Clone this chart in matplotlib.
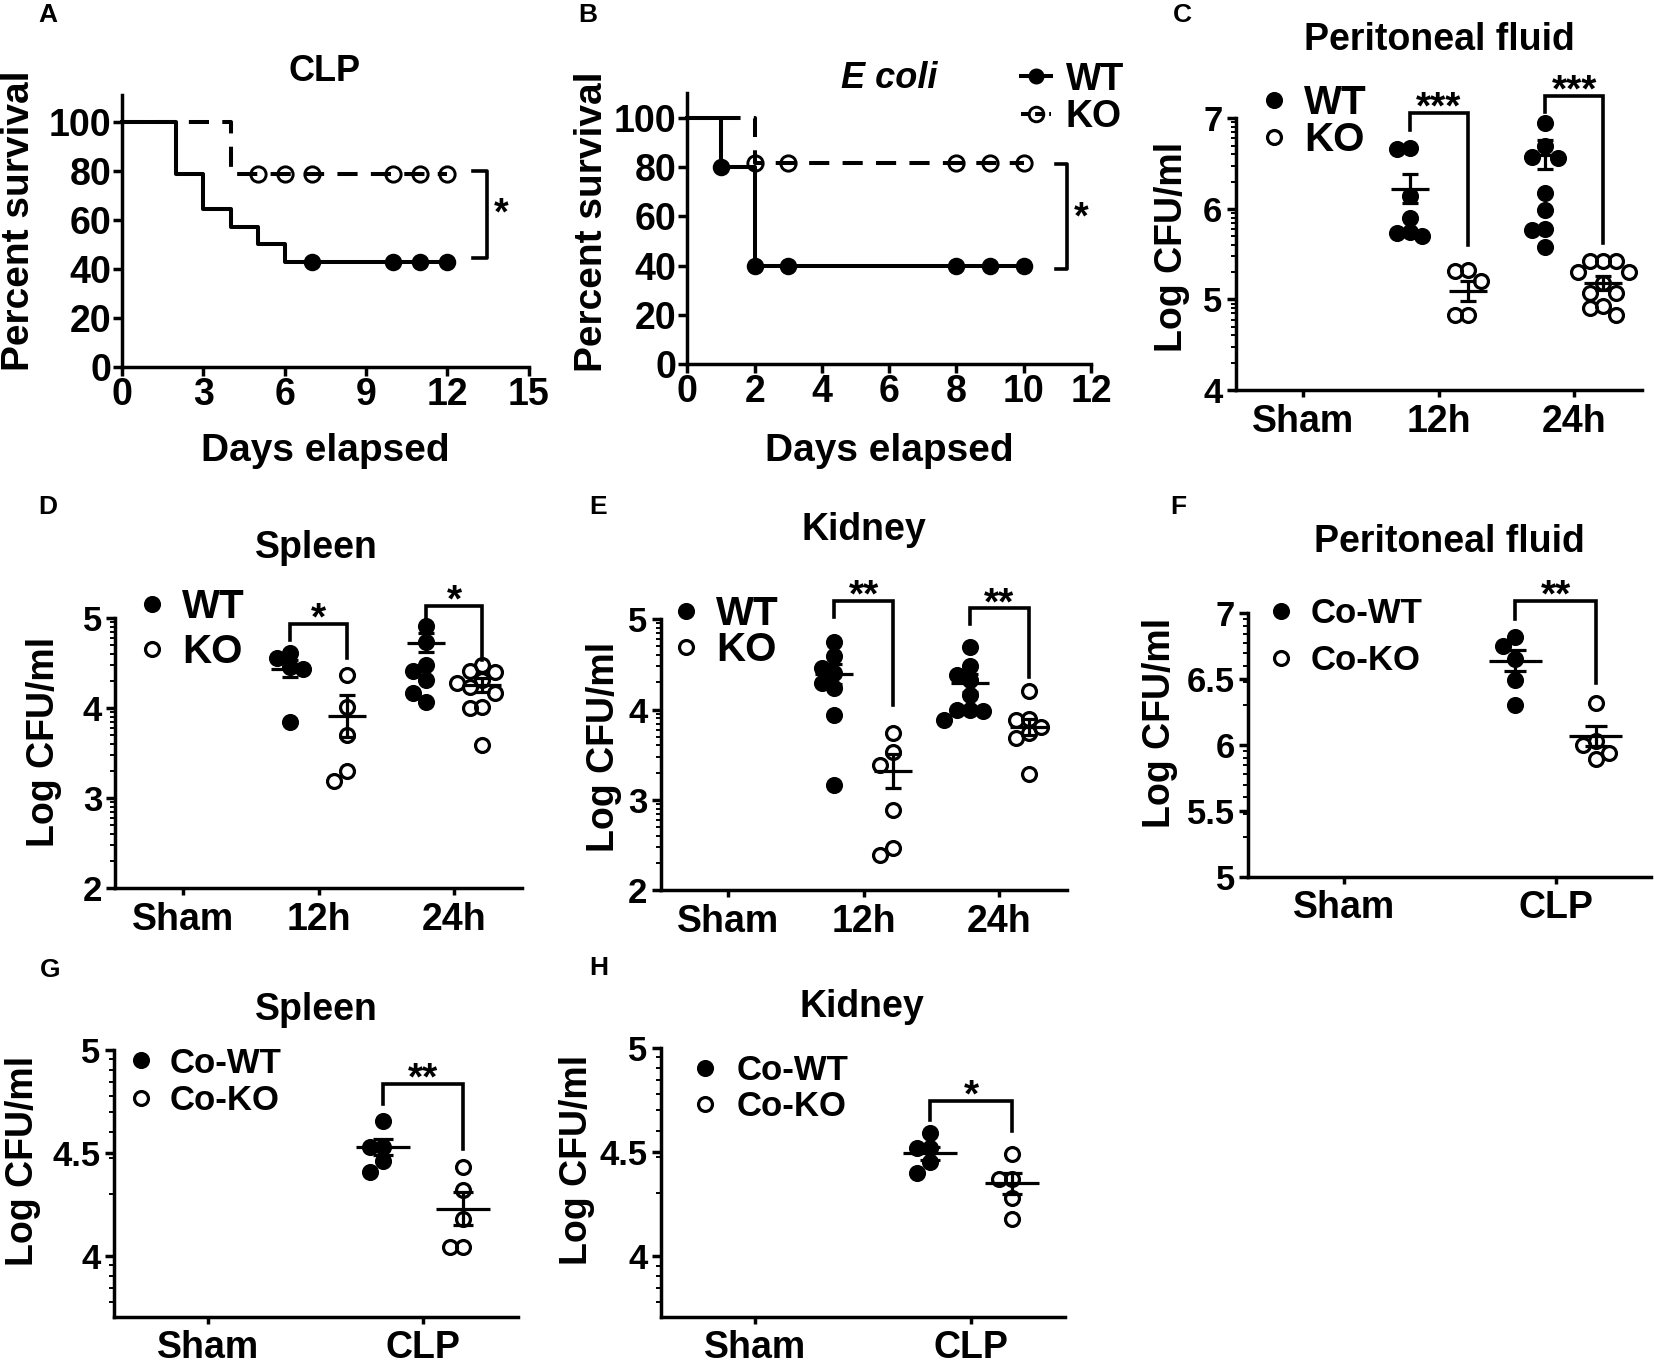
import numpy as np
import matplotlib
matplotlib.use("Agg")
import matplotlib.pyplot as plt
from matplotlib.lines import Line2D
from matplotlib.ticker import FixedLocator, FuncFormatter

plt.rcParams['font.family'] = ['Liberation Sans', 'DejaVu Sans']
plt.rcParams['font.weight'] = 'bold'
plt.rcParams['axes.linewidth'] = 2.5

# ---------------- survival data (% survival, step curves) ----------------
clp_wt_days = [0, 2, 3, 4, 5, 6, 12]
clp_wt_surv = [100, 78.6, 64.3, 57.1, 50.0, 42.9, 42.9]
clp_wt_censored = [7, 10, 11, 12]
clp_ko_days = [0, 4, 12]
clp_ko_surv = [100, 78.6, 78.6]
clp_ko_censored = [5, 6, 7, 10, 11, 12]

ecoli_wt_days = [0, 1, 2, 10]
ecoli_wt_surv = [100, 80, 40, 40]
ecoli_wt_censored = [1, 2, 3, 8, 9, 10]
ecoli_ko_days = [0, 2, 10]
ecoli_ko_surv = [100, 81.8, 81.8]
ecoli_ko_censored = [2, 3, 8, 9, 10]

# ---------------- bacterial load (Log CFU/ml) ----------------
time_groups = ['Sham', '12h', '24h']
co_groups = ['Sham', 'CLP']

# C peritoneal fluid
pf_wt = {'12h': [6.67, 6.66, 6.14, 5.90, 5.74, 5.70, 5.73],
         '24h': [6.95, 6.69, 6.57, 6.56, 6.17, 5.99, 5.78, 5.77, 5.58]}
pf_ko = {'12h': [5.32, 5.31, 5.20, 4.83, 4.83],
         '24h': [5.42, 5.42, 5.42, 5.30, 5.30, 5.18, 5.07, 5.07, 4.93, 4.90, 4.83]}
pf_wt_mean = {'12h': 6.22, '24h': 6.60}
pf_wt_sem = {'12h': 0.16, '24h': 0.165}
pf_ko_mean = {'12h': 5.09, '24h': 5.18}
pf_ko_sem = {'12h': 0.11, '24h': 0.075}
pf_sig = {'12h': (7.055, 6.87, 5.60, '***'), '24h': (7.25, 7.07, 5.62, '***')}

# D spleen
sp_wt = {'12h': [4.61, 4.56, 4.46, 4.44, 3.85],
         '24h': [4.91, 4.74, 4.48, 4.41, 4.31, 4.17, 4.07]}
sp_ko = {'12h': [4.37, 4.02, 3.70, 3.30, 3.19],
         '24h': [4.48, 4.42, 4.40, 4.31, 4.28, 4.24, 4.17, 4.02, 4.00, 3.59]}
sp_wt_mean = {'12h': 4.44, '24h': 4.73}
sp_wt_sem = {'12h': 0.093, '24h': 0.11}
sp_ko_mean = {'12h': 3.915, '24h': 4.26}
sp_ko_sem = {'12h': 0.23, '24h': 0.075}
sp_sig = {'12h': (4.94, 4.76, 4.56, '*'), '24h': (5.14, 4.94, 4.54, '*')}

# E kidney
kd_wt = {'12h': [4.75, 4.59, 4.46, 4.40, 4.29, 4.24, 3.94, 3.16],
         '24h': [4.69, 4.48, 4.38, 4.33, 4.16, 4.00, 4.00, 3.98, 3.88]}
kd_ko = {'12h': [3.74, 3.53, 3.39, 2.89, 2.46, 2.39],
         '24h': [4.20, 3.90, 3.88, 3.81, 3.74, 3.68, 3.29]}
kd_wt_mean = {'12h': 4.39, '24h': 4.29}
kd_wt_sem = {'12h': 0.11, '24h': 0.10}
kd_ko_mean = {'12h': 3.32, '24h': 3.81}
kd_ko_sem = {'12h': 0.19, '24h': 0.09}
kd_sig = {'12h': (5.20, 5.03, 4.05, '**'), '24h': (5.12, 4.95, 4.365, '**')}

# F co-housed peritoneal fluid
cpf_wt = {'CLP': [6.82, 6.75, 6.65, 6.49, 6.30]}
cpf_ko = {'CLP': [6.32, 6.03, 6.00, 5.94, 5.89]}
cpf_wt_mean = {'CLP': 6.64}
cpf_wt_sem = {'CLP': 0.08}
cpf_ko_mean = {'CLP': 6.07}
cpf_ko_sem = {'CLP': 0.078}
cpf_sig = {'CLP': (7.094, 6.954, 6.468, '**')}

# G co-housed spleen
csp_wt = {'CLP': [4.657, 4.53, 4.53, 4.46, 4.41]}
csp_ko = {'CLP': [4.43, 4.32, 4.18, 4.045, 4.045]}
csp_wt_mean = {'CLP': 4.53}
csp_wt_sem = {'CLP': 0.04}
csp_ko_mean = {'CLP': 4.23}
csp_ko_sem = {'CLP': 0.081}
csp_sig = {'CLP': (4.833, 4.738, 4.518, '**')}

# H co-housed kidney
ckd_wt = {'CLP': [4.59, 4.52, 4.52, 4.45, 4.40]}
ckd_ko = {'CLP': [4.49, 4.37, 4.37, 4.28, 4.18]}
ckd_wt_mean = {'CLP': 4.493}
ckd_wt_sem = {'CLP': 0.032}
ckd_ko_mean = {'CLP': 4.349}
ckd_ko_sem = {'CLP': 0.052}
ckd_sig = {'CLP': (4.746, 4.653, 4.602, '*')}

W, H, DPI = 1654, 1367, 100
fig = plt.figure(figsize=(W / DPI, H / DPI), dpi=DPI)


def px_axes(l, t, r, b):
    return fig.add_axes([l / W, 1 - b / H, (r - l) / W, (b - t) / H])


def fpos(x, y):
    return (x / W, 1 - y / H)


def base_style(ax):
    for s in ('top', 'right'):
        ax.spines[s].set_visible(False)
    ax.tick_params(which='major', direction='out', width=2.5, color='k')


def legend_at(ax, handles, labels, dot_x, y1, y2, text_x, fs, hl=1.0):
    fs_px = fs * DPI / 72.0
    th = 0.94 * fs_px
    htp = (text_x - dot_x) / fs_px - hl / 2
    ls = ((y2 - y1) - th) / fs_px
    ax.legend(handles, labels, loc='center left', frameon=False, fontsize=fs,
              bbox_to_anchor=fpos(dot_x - hl * fs_px / 2, (y1 + y2) / 2),
              bbox_transform=fig.transFigure, borderpad=0, borderaxespad=0,
              handlelength=hl, handletextpad=htp, labelspacing=ls, numpoints=1)


def label_y(ax, text, x, y, fs):
    ax.set_ylabel(text, fontsize=fs, fontweight='bold', va='center')
    ax.yaxis.set_label_coords(*fpos(x, y), transform=fig.transFigure)


# ---------------- Kaplan-Meier panels ----------------
def km_curve(ax, days, surv, censored, dashed, filled):
    ls = (0, (5.0, 3.3)) if dashed else '-'
    ax.step(days, surv, where='post', color='k', lw=2.9, ls=ls, clip_on=False, zorder=2)
    idx = np.searchsorted(days, censored, side='right') - 1
    ax.plot(censored, np.asarray(surv)[idx], ls='none', marker='o',
            ms=10.5 if filled else 11, mfc='k' if filled else 'none', mec='k',
            mew=2.1, clip_on=False, zorder=3)


def km_panel(ax, xmax, xstep, ytop):
    base_style(ax)
    ax.set_xlim(0, xmax)
    ax.set_ylim(0, ytop)
    ax.set_xticks(np.arange(0, xmax + 0.1, xstep))
    ax.set_yticks(np.arange(0, 101, 20))
    ax.tick_params(which='major', length=6.2, labelsize=27, pad=1.5)
    ax.tick_params(axis='x', pad=1)


axA = px_axes(122.2, 95, 528.6, 366.7)
km_panel(axA, 15, 3, 111)
km_curve(axA, clp_ko_days, clp_ko_surv, clp_ko_censored, True, False)
km_curve(axA, clp_wt_days, clp_wt_surv, clp_wt_censored, False, True)
axA.plot([12.94, 13.48, 13.48, 12.94], [80.1, 80.1, 44.5, 44.5], color='k', lw=2.6,
         clip_on=False)
axA.text(14.0, 62, '*', fontsize=27, ha='center', va='center')
label_y(axA, 'Percent survival', 19, 221, 28)
axA.set_xlabel('Days elapsed', fontsize=28, fontweight='bold', va='center')
axA.xaxis.set_label_coords(*fpos(325, 451), transform=fig.transFigure)
fig.text(*fpos(325, 71.7), 'CLP', fontsize=26, ha='center', va='center')

axB = px_axes(687.4, 93.3, 1091, 364)
km_panel(axB, 12, 2, 110)
km_curve(axB, ecoli_ko_days, ecoli_ko_surv, ecoli_ko_censored, True, False)
km_curve(axB, ecoli_wt_days, ecoli_wt_surv, ecoli_wt_censored, False, True)
axB.plot([10.97, 11.28, 11.28, 10.97], [81.4, 81.4, 38.8, 38.8], color='k', lw=2.6,
         clip_on=False)
axB.text(11.72, 59, '*', fontsize=27, ha='center', va='center')
label_y(axB, 'Percent survival', 592.5, 221.5, 28)
axB.set_xlabel('Days elapsed', fontsize=28, fontweight='bold', va='center')
axB.xaxis.set_label_coords(*fpos(889, 451), transform=fig.transFigure)
fig.text(*fpos(889.5, 78.3), 'E coli', fontsize=26, style='italic', ha='center', va='center')
wt_h = Line2D([], [], color='k', lw=2.9, marker='o', ms=10.5, mfc='k')
ko_h = Line2D([], [], color='k', lw=2.9, ls=(0, (2, 1.5)), marker='o', ms=10.5, mfc='none', mew=2.1)
legend_at(axB, [wt_h, ko_h], ['WT', 'KO'], 1036, 80, 116.7, 1066, 27, hl=0.8)


# ---------------- scatter (CFU) panels ----------------
def swarm(ax, xc, vals, ms=10):
    d = 0.92 * ms * DPI / 72.0
    cx = ax.transData.transform((xc, 0))[0]
    ys = ax.transData.transform(np.column_stack([np.full(len(vals), xc), vals]))[:, 1]
    xs = np.empty(len(vals))
    placed = []
    for i in np.argsort(-np.asarray(vals), kind='stable'):
        for k in (0, -1, 1, -2, 2, -3, 3):
            x = cx + k * d
            if all(np.hypot(x - px, ys[i] - py) >= d - 1e-6 for px, py in placed):
                break
        placed.append((x, ys[i]))
        xs[i] = x
    return ax.transData.inverted().transform(np.column_stack([xs, ys]))[:, 0]


def log_minor(lo, hi):
    out = []
    for n in range(int(np.floor(lo)), int(np.ceil(hi))):
        for k in range(2, 10):
            v = n + np.log10(k)
            if lo <= v <= hi:
                out.append(v)
    return out


def cfu_panel(ax, groups, xlim, ylim, yticks, wt, ko, wt_mean, wt_sem, ko_mean, ko_sem, sig,
              off, mean_hw, capsize):
    base_style(ax)
    ax.set_xlim(*xlim)
    ax.set_ylim(*ylim)
    ax.set_xticks(range(len(groups)))
    ax.set_xticklabels(groups)
    ax.yaxis.set_major_locator(FixedLocator(yticks))
    ax.yaxis.set_major_formatter(FuncFormatter(lambda v, p: '%g' % v))
    ax.yaxis.set_minor_locator(FixedLocator(log_minor(*ylim)))
    ax.tick_params(axis='y', which='major', length=6.5, labelsize=25, pad=3)
    ax.tick_params(axis='y', which='minor', direction='out', length=3.8, width=1.4)
    ax.tick_params(axis='x', which='major', length=4.8, labelsize=27, pad=5)
    for i, g in enumerate(groups):
        if g not in wt:
            continue
        for vals, m, s, dx, face in ((wt[g], wt_mean[g], wt_sem[g], -off, 'k'),
                                     (ko[g], ko_mean[g], ko_sem[g], off, 'none')):
            xc = i + dx
            ax.plot(swarm(ax, xc, vals), vals, ls='none', marker='o', ms=10, mfc=face,
                    mec='k', mew=2.3, clip_on=False, zorder=3)
            ax.errorbar(xc, m, yerr=s, fmt='none', ecolor='k', elinewidth=2.3,
                        capsize=capsize, capthick=2.3, zorder=4, clip_on=False)
            ax.hlines(m, xc - mean_hw, xc + mean_hw, color='k', lw=2.3, zorder=4)
        top, lb, rb, stars = sig[g]
        ax.plot([i - off, i - off, i + off, i + off], [lb, top, top, rb], color='k', lw=2.6,
                clip_on=False, solid_joinstyle='miter')
        ax.annotate(stars, (i, top), xytext=(0, -4), textcoords='offset points',
                    ha='center', va='baseline', fontsize=28, annotation_clip=False)


def scatter_legend(ax, labels, dot_x, y1, y2, text_x, fs):
    h1 = Line2D([], [], ls='none', marker='o', ms=10, mfc='k', mec='k', mew=2.3)
    h2 = Line2D([], [], ls='none', marker='o', ms=10, mfc='none', mec='k', mew=2.3)
    legend_at(ax, [h1, h2], labels, dot_x, y1, y2, text_x, fs)


axC = px_axes(1235.6, 118.3, 1641.8, 390)
cfu_panel(axC, time_groups, (-0.5, 2.5), (4, 7), [4, 5, 6, 7], pf_wt, pf_ko,
          pf_wt_mean, pf_wt_sem, pf_ko_mean, pf_ko_sem, pf_sig, 0.215, 0.14, 5.8)
label_y(axC, 'Log CFU/ml', 1171.5, 246.7, 27)
scatter_legend(axC, ['WT', 'KO'], 1274, 103.3, 140, 1304, 29)
fig.text(*fpos(1439, 40), 'Peritoneal fluid', fontsize=27, ha='center', va='center')

axD = px_axes(115.4, 618.3, 521.7, 888.3)
cfu_panel(axD, time_groups, (-0.5, 2.5), (2, 5), [2, 3, 4, 5], sp_wt, sp_ko,
          sp_wt_mean, sp_wt_sem, sp_ko_mean, sp_ko_sem, sp_sig, 0.21, 0.14, 5.8)
label_y(axD, 'Log CFU/ml', 44, 741.7, 27)
scatter_legend(axD, ['WT', 'KO'], 151.5, 606.7, 651.7, 182, 29)
fig.text(*fpos(316.8, 548.3), 'Spleen', fontsize=27, ha='center', va='center')

axE = px_axes(660.5, 619.3, 1066.9, 890)
cfu_panel(axE, time_groups, (-0.5, 2.5), (2, 5), [2, 3, 4, 5], kd_wt, kd_ko,
          kd_wt_mean, kd_wt_sem, kd_ko_mean, kd_ko_sem, kd_sig, 0.217, 0.14, 5.8)
label_y(axE, 'Log CFU/ml', 604.5, 746.7, 27)
scatter_legend(axE, ['WT', 'KO'], 686.4, 614, 650, 716, 29)
fig.text(*fpos(863.7, 530), 'Kidney', fontsize=27, ha='center', va='center')

axF = px_axes(1248.4, 613.3, 1651, 876.7)
cfu_panel(axF, co_groups, (-0.45, 1.45), (5, 7), [5, 5.5, 6, 6.5, 7], cpf_wt, cpf_ko,
          cpf_wt_mean, cpf_wt_sem, cpf_ko_mean, cpf_ko_sem, cpf_sig, 0.19, 0.125, 8)
label_y(axF, 'Log CFU/ml', 1159.5, 722.5, 27)
scatter_legend(axF, ['Co-WT', 'Co-KO'], 1280.6, 614, 660, 1311, 25)
fig.text(*fpos(1449.7, 541.7), 'Peritoneal fluid', fontsize=27, ha='center', va='center')

axG = px_axes(113.6, 1050, 518.3, 1316.7)
cfu_panel(axG, co_groups, (-0.441, 1.445), (3.705, 5), [4, 4.5, 5], csp_wt, csp_ko,
          csp_wt_mean, csp_wt_sem, csp_ko_mean, csp_ko_sem, csp_sig, 0.186, 0.125, 7)
label_y(axG, 'Log CFU/ml', 23, 1160.8, 27)
scatter_legend(axG, ['Co-WT', 'Co-KO'], 140.5, 1063.3, 1100, 169.5, 25)
fig.text(*fpos(316.8, 1010), 'Spleen', fontsize=27, ha='center', va='center')

axH = px_axes(660.5, 1047.7, 1065, 1316.7)
cfu_panel(axH, co_groups, (-0.439, 1.435), (3.709, 5), [4, 4.5, 5], ckd_wt, ckd_ko,
          ckd_wt_mean, ckd_wt_sem, ckd_ko_mean, ckd_ko_sem, ckd_sig, 0.19, 0.125, 7)
label_y(axH, 'Log CFU/ml', 577, 1160, 27)
scatter_legend(axH, ['Co-WT', 'Co-KO'], 705.3, 1070.7, 1106, 737, 25)
fig.text(*fpos(862, 1006.7), 'Kidney', fontsize=27, ha='center', va='center')

# panel letters
for letter, x, y in (('A', 48, 15), ('B', 588, 15), ('C', 1182.5, 15),
                     ('D', 48, 506.7), ('E', 598.5, 506.7), ('F', 1178.8, 506.7),
                     ('G', 50, 970), ('H', 598.5, 968)):
    fig.text(*fpos(x, y), letter, fontsize=19, ha='center', va='center')

fig.savefig('out.png', dpi=DPI)
